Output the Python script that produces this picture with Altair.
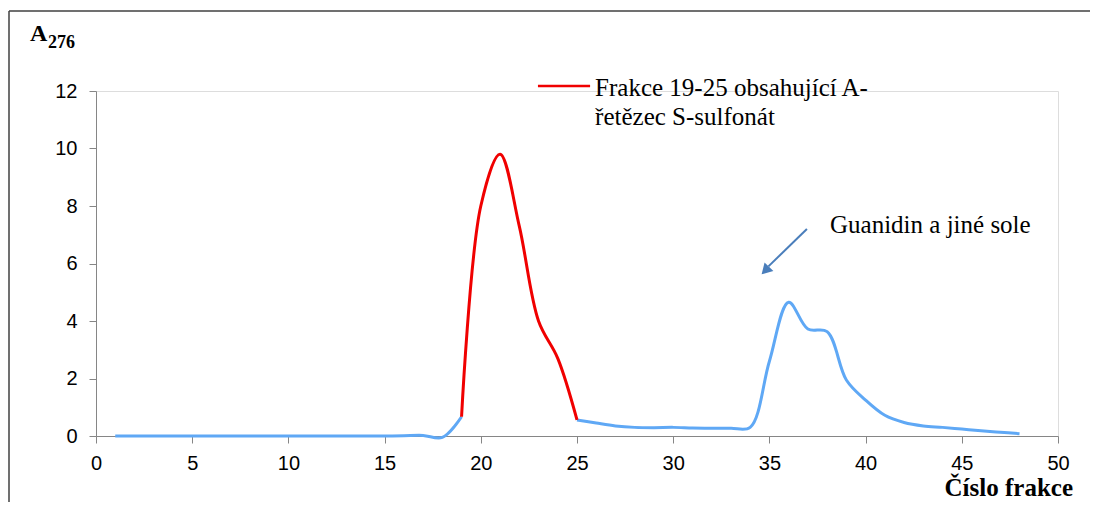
import altair as alt
import pandas as pd

# ---- data ----
fractions = list(range(1, 49))
absorbance = [0.0, 0.0, 0.0, 0.0, 0.0, 0.0, 0.0, 0.0, 0.0, 0.0,
              0.0, 0.0, 0.0, 0.0, 0.0, 0.01, 0.02, -0.05, 0.67, 8.0,
              9.8, 7.3, 4.0, 2.7, 0.56, 0.45, 0.35, 0.3, 0.29, 0.3,
              0.28, 0.27, 0.27, 0.3, 2.6, 4.65, 3.72, 3.63, 1.95, 1.25,
              0.72, 0.47, 0.35, 0.3, 0.24, 0.18, 0.13, 0.08]
red_from, red_to = 19, 25

x_ticks = list(range(0, 51, 5))
y_ticks = list(range(0, 13, 2))

legend_label = ["Frakce 19-25 obsahující A-", "řetězec S-sulfonát"]
annotation_label = "Guanidin a jiné sole"
x_title = "Číslo frakce"
y_title_main, y_title_sub = "A", "276"

BLUE = "#5fa8f5"
RED = "#f00000"
ARROW = "#4a7ebb"
SERIF = "Liberation Serif"
SANS = "Liberation Sans"

df = pd.DataFrame({"frac": fractions, "a": absorbance})
# blue series drawn as the parts outside the highlighted range (the middle is covered by red)
seg_before = df[df.frac <= red_from].assign(seg="a")
seg_after = df[df.frac >= red_to].assign(seg="b")
df_blue = pd.concat([seg_before, seg_after], ignore_index=True)
df_red = df[(df.frac >= red_from) & (df.frac <= red_to)]

xs = alt.Scale(domain=[0, 50], nice=False, zero=False)
ys = alt.Scale(domain=[0, 12], nice=False, zero=False)

xax = alt.Axis(values=x_ticks, title=None, grid=False, labelFont=SANS, labelFontSize=20,
               labelColor="black", domainColor="#868686", tickColor="#868686",
               tickSize=7, labelPadding=10, labelFlush=False)
yax = alt.Axis(values=y_ticks, title=None, grid=False, labelFont=SANS, labelFontSize=20,
               labelColor="black", domainColor="#868686", tickColor="#868686",
               tickSize=7, labelPadding=12)

blue = alt.Chart(df_blue).mark_line(color=BLUE, strokeWidth=3, interpolate="catmull-rom").encode(
    x=alt.X("frac:Q", scale=xs, axis=xax),
    y=alt.Y("a:Q", scale=ys, axis=yax),
    detail="seg:N",
)
red = alt.Chart(df_red).mark_line(color=RED, strokeWidth=3, interpolate="catmull-rom").encode(
    x=alt.X("frac:Q", scale=xs),
    y=alt.Y("a:Q", scale=ys),
)

# legend sample
leg_df = pd.DataFrame({"x": [22.97], "x2": [25.68], "y": [12.17]})
leg_line = alt.Chart(leg_df).mark_rule(color=RED, strokeWidth=2.5).encode(
    x=alt.X("x:Q", scale=xs), x2="x2:Q", y=alt.Y("y:Q", scale=ys))
leg_txt_df = pd.DataFrame({"x": [25.94, 25.94], "y": [12.1, 11.08], "t": legend_label})
leg_txt = alt.Chart(leg_txt_df).mark_text(font=SERIF, fontSize=25, align="left",
                                           baseline="middle", color="black").encode(
    x=alt.X("x:Q", scale=xs), y=alt.Y("y:Q", scale=ys), text="t:N")

# annotation with arrow
ann_df = pd.DataFrame({"x": [38.15], "y": [7.34], "t": [annotation_label]})
ann = alt.Chart(ann_df).mark_text(font=SERIF, fontSize=25, align="left",
                                  baseline="middle", color="black").encode(
    x=alt.X("x:Q", scale=xs), y=alt.Y("y:Q", scale=ys), text="t:N")
arr_df = pd.DataFrame({"x": [36.95], "y": [7.2], "x2": [34.95], "y2": [5.9]})
arr_line = alt.Chart(arr_df).mark_rule(color=ARROW, strokeWidth=2).encode(
    x=alt.X("x:Q", scale=xs), y=alt.Y("y:Q", scale=ys), x2="x2:Q", y2="y2:Q")
head_df = pd.DataFrame({"x": [34.85], "y": [5.8]})
arr_head = alt.Chart(head_df).mark_point(shape="triangle", filled=True, color=ARROW,
                                         size=150, angle=224, opacity=1).encode(
    x=alt.X("x:Q", scale=xs), y=alt.Y("y:Q", scale=ys))

# titles
t_a = alt.Chart(pd.DataFrame({"t": [y_title_main]})).mark_text(
    font=SERIF, fontSize=24, fontWeight="bold", align="left", baseline="alphabetic",
    color="black").encode(x=alt.value(-66), y=alt.value(-50), text="t:N")
t_sub = alt.Chart(pd.DataFrame({"t": [y_title_sub]})).mark_text(
    font=SERIF, fontSize=18, fontWeight="bold", align="left", baseline="alphabetic",
    color="black").encode(x=alt.value(-48), y=alt.value(-43), text="t:N")
t_x = alt.Chart(pd.DataFrame({"t": [x_title]})).mark_text(
    font=SERIF, fontSize=25, fontWeight="bold", align="right", baseline="alphabetic",
    color="black").encode(x=alt.value(977), y=alt.value(405), text="t:N")

# frame
frame_top = alt.Chart(pd.DataFrame({"k": [0]})).mark_rule(color="#404040", strokeWidth=1.5).encode(
    x=alt.value(-87), x2=alt.value(1000), y=alt.value(-80))
frame_left = alt.Chart(pd.DataFrame({"k": [0]})).mark_rule(color="#404040", strokeWidth=1.5).encode(
    x=alt.value(-87), y=alt.value(-80), y2=alt.value(420))

chart = alt.layer(
    frame_top, frame_left, blue, red, leg_line, leg_txt, ann, arr_line, arr_head,
    t_a, t_sub, t_x
).properties(
    width=962, height=345,
    padding={"left": 88, "top": 83, "right": 32, "bottom": 66},
    autosize=alt.AutoSizeParams(type="none"),
).configure_view(stroke=None).configure(background="white")

chart.save("out.html", embed_options={"renderer": "svg", "actions": False})
